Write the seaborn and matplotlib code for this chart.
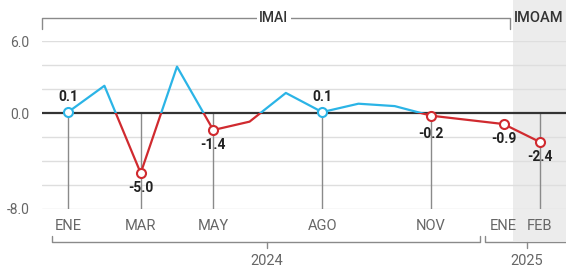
import numpy as np
import pandas as pd
import seaborn as sns
import matplotlib.pyplot as plt
from matplotlib.patches import Rectangle
from matplotlib.transforms import blended_transform_factory

# monthly change, ENE 2024 .. FEB 2025 (no DIC point in the source)
months = ['ENE', 'FEB', 'MAR', 'ABR', 'MAY', 'JUN', 'JUL', 'AGO', 'SEP', 'OCT', 'NOV', 'ENE', 'FEB']
month_pos = [0, 1, 2, 3, 4, 5, 6, 7, 8, 9, 10, 12, 13]
values = [0.1, 2.3, -5.0, 3.9, -1.4, -0.7, 1.7, 0.1, 0.8, 0.6, -0.2, -0.9, -2.4]

labeled_idx = [0, 2, 4, 7, 10, 11, 12]
vline_idx = [0, 2, 4, 7, 10, 12]
tick_idx = [0, 2, 4, 7, 10, 11, 12]
yticks = [6.0, 0.0, -8.0]

BLUE = '#2bb4e6'
RED = '#d02a2f'
GRAY = '#8a8a8a'

df = pd.DataFrame({'pos': month_pos, 'val': values, 'mes': months})

sns.set_style('white')
plt.rcParams['font.family'] = ['Roboto', 'DejaVu Sans']

fig = plt.figure(figsize=(5.66, 2.71), dpi=100)
ax = fig.add_axes([0.0742, 0.2288, 0.9258, 0.6181])
ax.set_xlim(-0.72, 13.72)
ax.set_ylim(-8, 6)

# 2025 shaded band
ax.axvspan(12.27, 14, ymin=-0.19, ymax=1.26, color='#ececec', lw=0, zorder=0.1, clip_on=False)

for y in np.arange(-8, 7, 2):
    if y != 0:
        ax.axhline(y, color='#dedede', lw=1, zorder=0.5)
ax.axhline(0, color='#333333', lw=1.6, zorder=2)

for i in vline_idx:
    ax.plot([month_pos[i], month_pos[i]], [-8, 0], color=GRAY, lw=1, zorder=1)

# line coloured by sign: draw twice, clip each half
sns.lineplot(data=df, x='pos', y='val', color=BLUE, lw=1.6, ax=ax, zorder=3)
ax.lines[-1].set_clip_path(Rectangle((-2, 0), 20, 10, transform=ax.transData))
sns.lineplot(data=df, x='pos', y='val', color=RED, lw=1.6, ax=ax, zorder=3)
ax.lines[-1].set_clip_path(Rectangle((-2, -10), 20, 10, transform=ax.transData))

for i in labeled_idx:
    x, v = month_pos[i], values[i]
    c = BLUE if v > 0 else RED
    ax.plot(x, v, 'o', mfc='white', mec=c, ms=6.5, mew=1.5, zorder=4)
    dy = 11 if v > 0 else -11
    if i == 10:
        dy = -13
    ax.annotate(f'{v:.1f}', (x, v), xytext=(0, dy), textcoords='offset points',
                ha='center', va='center', fontsize=10, fontweight='bold',
                color='#222222', zorder=5)

ax.set_xticks([month_pos[i] for i in tick_idx])
ax.set_xticklabels([months[i] for i in tick_idx])
ax.set_yticks(yticks)
ax.set_yticklabels([f'{t:.1f}' for t in yticks])
ax.tick_params(axis='both', length=0, labelsize=10, labelcolor='#666666')
ax.tick_params(axis='x', pad=7, labelsize=10.5)
ax.tick_params(axis='y', pad=9)
ax.set_xlabel('')
ax.set_ylabel('')
sns.despine(ax=ax, left=True, bottom=True)

tr = blended_transform_factory(ax.transData, ax.transAxes)
# top bracket
ax.plot([-0.72, -0.72, 12.18, 12.18], [1.075, 1.14, 1.14, 1.075], color=GRAY, lw=1,
        transform=tr, clip_on=False)
ax.text(5.67, 1.14, 'IMAI', transform=tr, ha='center', va='center', fontsize=10,
        fontweight='medium', color='#333333',
        bbox=dict(facecolor='white', edgecolor='none', pad=2))
ax.text(12.29, 1.14, 'IMOAM', transform=tr, ha='left', va='center', fontsize=10.5,
        fontweight='medium', color='#333333')

# bottom year brackets
for x0, x1, xc, label in [(-0.44, 11.35, 5.48, '2024'), (11.49, 14.0, 12.64, '2025')]:
    ax.plot([x0, x0, x1, x1], [-0.161, -0.197, -0.197, -0.161], color=GRAY, lw=1,
            transform=tr, clip_on=False)
    ax.plot([xc, xc], [-0.197, -0.233], color=GRAY, lw=1, transform=tr, clip_on=False)
    ax.text(xc, -0.31, label, transform=tr, ha='center', va='center', fontsize=10.5,
            color='#666666')

fig.savefig('out.png', dpi=100)
